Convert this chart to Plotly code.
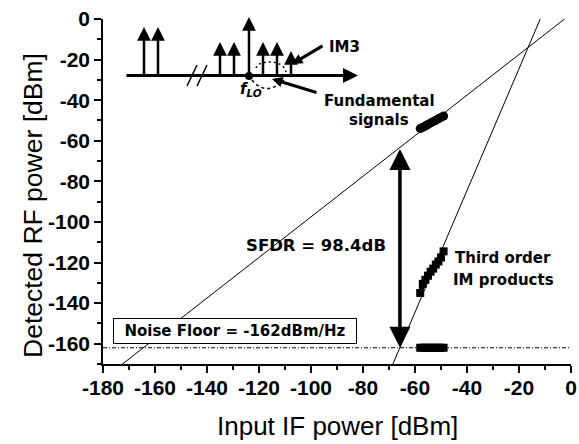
import plotly.graph_objects as go

# ---------------- data ----------------
meas_in = [-58, -57, -56, -55, -54, -53, -52, -51, -50, -49]
fund_out = [-54.0, -53.4, -52.7, -52.0, -51.2, -50.6, -49.9, -49.2, -48.5, -47.8]
im3_out = [-135.0, -130.5, -128.5, -126.5, -124.5, -123.0, -121.0, -119.5, -117.5, -114.5]
noise_out = [-162, -162, -162, -162, -162, -162, -162, -162, -162, -162]

fund_fit_in = [-180, 0]
fund_fit_out = [-177.5, 2.5]
im3_fit_in = [-70, -10]
im3_fit_out = [-174.5, 5.5]
noise_floor = -162
noise_in = [-180, 0]
sfdr_in = -65.8
sfdr_top = -63.3

x_ticks = list(range(-180, 1, 20))
y_ticks = list(range(-160, 1, 20))
x_labels = [f"<b>{v}</b>" for v in x_ticks]
y_labels = [f"<b>{v}</b>" for v in y_ticks]

# ---------------- layout helpers ----------------
W, H = 579, 444
L, R, T, B = 103, 571, 19, 364
BOLD = "DejaVu Sans"
ARIAL = "Liberation Sans, Arial"


def px(x):
    return (x - L) / (R - L)


def py(y):
    return (B - y) / (B - T)


fig = go.Figure()

# fitted lines
fig.add_trace(go.Scatter(x=fund_fit_in, y=fund_fit_out, mode="lines",
                         line=dict(color="black", width=1), hoverinfo="skip"))
fig.add_trace(go.Scatter(x=im3_fit_in, y=im3_fit_out, mode="lines",
                         line=dict(color="black", width=1), hoverinfo="skip"))
# noise floor
fig.add_trace(go.Scatter(x=noise_in, y=[noise_floor, noise_floor], mode="lines",
                         line=dict(color="black", width=1, dash="4px,2px,1px,2px"),
                         hoverinfo="skip"))
# measured
fig.add_trace(go.Scatter(x=meas_in, y=fund_out, mode="lines+markers",
                         line=dict(color="black", width=8),
                         marker=dict(symbol="circle", size=9, color="black")))
fig.add_trace(go.Scatter(x=meas_in, y=im3_out, mode="lines+markers",
                         line=dict(color="black", width=5),
                         marker=dict(symbol="square", size=8, color="black")))
fig.add_trace(go.Scatter(x=meas_in, y=noise_out, mode="markers",
                         marker=dict(symbol="square", size=8, color="black")))

ann = []
shapes = []


def label(xp, yp, text, size=15, family=BOLD, **kw):
    ann.append(dict(x=px(xp), y=py(yp), xref="paper", yref="paper",
                    xanchor="center", yanchor="middle",
                    text=text, showarrow=False,
                    font=dict(family=family, size=size, color="black"), **kw))


# SFDR double arrow
ann.append(dict(x=sfdr_in, y=noise_floor, xref="x", yref="y",
                ax=sfdr_in, ay=sfdr_top, axref="x", ayref="y",
                text="", showarrow=True, arrowhead=2, startarrowhead=2,
                arrowside="end+start", arrowwidth=3.5, arrowsize=1.2,
                startarrowsize=1.2, arrowcolor="black", standoff=0, startstandoff=0))

label(316, 245, "<b>SFDR = 98.4dB</b>", size=16.5)
label(234.5, 330.5, "<b>Noise Floor = -162dBm/Hz</b>", size=15,
      bordercolor="black", borderwidth=1, borderpad=2,
      bgcolor="white", width=238, height=20)
label(503, 258, "<b>Third order</b>")
label(503, 280, "<b>IM products</b>")
label(379, 101, "<b>Fundamental</b>")
label(379, 120, "<b>signals</b>")
label(344, 47, "<b>IM3</b>")
label(251, 90, "<b><i>f</i><sub><i>LO</i></sub></b>")

# axis titles as annotations
label(337, 426, "Input IF power [dBm]", size=26, family=ARIAL)
label(33, 206, "Detected RF power [dBm]", size=26.5, family=ARIAL, textangle=-90)

# inset spectrum
base_y = 75.5


def arrow(hx, hy, tx, ty, w=2.5, size=1.0, head=2):
    ann.append(dict(x=px(hx), y=py(hy), xref="paper", yref="paper",
                    ax=tx - hx, ay=ty - hy, axref="pixel", ayref="pixel",
                    text="", showarrow=True, arrowhead=head, arrowwidth=w,
                    arrowsize=size, arrowcolor="black", standoff=0))


arrow(358, base_y, 125, base_y, w=3, size=1.0)
for xx, top in [(144, 27), (158, 27), (220, 42), (234, 42), (249, 17),
                (263, 42), (277, 42), (291, 51)]:
    arrow(xx, top, xx, base_y, w=2.5, size=1.1)

# pointer lines
arrow(292, 64, 324, 45, w=3, size=0.7)
arrow(272, 79, 318, 93, w=3, size=0.7)

# LO dot
shapes.append(dict(type="circle", xref="paper", yref="paper",
                   x0=px(245), x1=px(253), y0=py(80), y1=py(72),
                   fillcolor="black", line=dict(width=0)))
# double slash
for sx in (187, 197):
    shapes.append(dict(type="line", xref="paper", yref="paper",
                       x0=px(sx), y0=py(86), x1=px(sx + 10), y1=py(65),
                       line=dict(color="black", width=1.5)))
# dotted bracket above
shapes.append(dict(type="path", xref="paper", yref="paper",
                   path=f"M {px(256)},{py(68)} Q {px(258)},{py(62)} {px(270)},{py(62)} "
                        f"Q {px(283)},{py(62)} {px(286)},{py(72)}",
                   line=dict(color="black", width=1.5, dash="2px,3px")))
# dotted arc below
shapes.append(dict(type="path", xref="paper", yref="paper",
                   path=f"M {px(252)},{py(80)} Q {px(266)},{py(97)} {px(284)},{py(80)}",
                   line=dict(color="black", width=1.5, dash="3px,3px")))

fig.update_layout(
    width=W, height=H,
    margin=dict(l=L, r=W - R, t=T, b=H - B, autoexpand=False),
    paper_bgcolor="white", plot_bgcolor="white",
    showlegend=False,
    annotations=ann, shapes=shapes,
    xaxis=dict(range=[-180, 0], tickvals=x_ticks, ticktext=x_labels,
               ticks="outside", ticklen=7, automargin=False,
               tickwidth=1.5, tickcolor="black", showline=True, linecolor="black",
               linewidth=1.5, showgrid=False, zeroline=False,
               ticklabelstandoff=-3,
               tickfont=dict(family=ARIAL, size=21, color="black"),
               minor=dict(dtick=10, tick0=0, ticks="outside", ticklen=4,
                          tickwidth=1.5, tickcolor="black", showgrid=False)),
    yaxis=dict(range=[-170, 0], tickvals=y_ticks, ticktext=y_labels,
               ticks="outside", ticklen=7, automargin=False,
               tickwidth=1.5, tickcolor="black", showline=True, linecolor="black",
               linewidth=1.5, showgrid=False, zeroline=False,
               tickfont=dict(family=ARIAL, size=21, color="black"),
               minor=dict(dtick=10, tick0=0, ticks="outside", ticklen=4,
                          tickwidth=1.5, tickcolor="black", showgrid=False)),
)

fig.write_html("out.html", config={"displayModeBar": False},
               post_script="document.body.style.margin='0';")
